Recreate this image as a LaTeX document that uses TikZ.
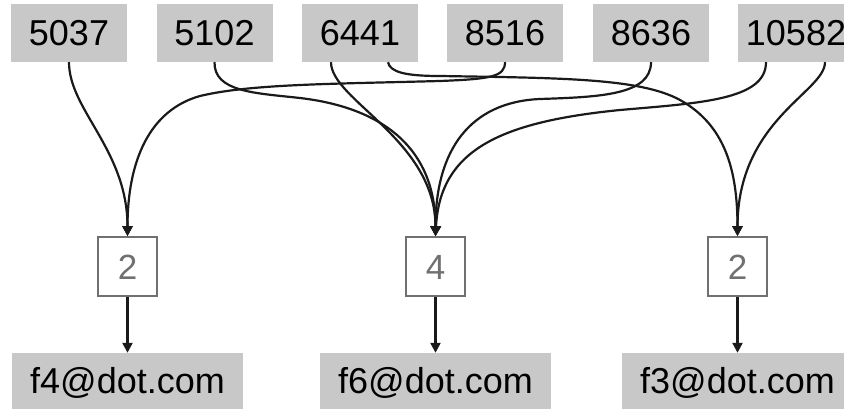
\documentclass[tikz,border=0pt]{standalone}
\usepackage{fontspec}
\setmainfont{Liberation Sans}
\usetikzlibrary{arrows.meta,calc}
\definecolor{boxgray}{RGB}{200,200,200}
\definecolor{countgray}{RGB}{112,112,112}
\definecolor{wire}{RGB}{26,26,26}
\tikzset{
  idbox/.style={fill=boxgray, minimum width=116pt, minimum height=58pt, inner sep=0pt,
    font=\fontsize{36}{40}\selectfont, text height=25.8pt, text depth=0pt},
  countbox/.style={draw=countgray, line width=1.6pt, fill=white, text=countgray,
    minimum width=59pt, minimum height=59pt, inner sep=0pt,
    font=\fontsize{35}{40}\selectfont, text height=25pt, text depth=0pt},
  mailbox/.style={fill=boxgray, minimum width=231pt, minimum height=56pt, inner sep=0pt,
    font=\fontsize{36}{40}\selectfont, text height=25.8pt, text depth=0pt},
  link/.style={draw=wire, line width=2.2pt, -{Triangle[length=10pt,width=10pt]}}
}
\begin{document}
\begin{tikzpicture}[x=1pt,y=-1pt]
\useasboundingbox (0,0) rectangle (844,409);
\clip (0,0) rectangle (844,409);

% source ids
\node[idbox] (a) at (69,33)    {5037};
\node[idbox] (b) at (214.5,33) {5102};
\node[idbox] (c) at (360,33)   {6441};
\node[idbox] (d) at (505,33)   {8516};
\node[idbox] (e) at (651,33)   {8636};
\node[idbox] (f) at (796,33)   {10582};

% counts
\node[countbox] (k1) at (127.5,266.5) {2};
\node[countbox] (k2) at (435.5,266.5) {4};
\node[countbox] (k3) at (737.5,266.5) {2};

% addresses
\node[mailbox] (m1) at (127.5,381) {f4@dot.com};
\node[mailbox] (m2) at (435.5,381) {f6@dot.com};
\node[mailbox] (m3) at (737.5,381) {f3@dot.com};

% exit points of sources with two links
\coordinate (cL) at ($(c.south)+(-29,0)$);
\coordinate (cR) at ($(c.south)+(28,0)$);
\coordinate (fL) at ($(f.south)+(-30,0)$);
\coordinate (fR) at ($(f.south)+(29,0)$);

% links into the first count
\draw[link] (a.south) .. controls (69,110) and (127.5,150) .. (k1.north);
\draw[link] (d.south) .. controls (505,77) and (490,79) .. (440,81)
  .. controls (330,84) and (250,84) .. (200,96)
  .. controls (150,110) and (127.5,160) .. (k1.north);

% links into the second count
\draw[link] (b.south) .. controls (214,92) and (255,93) .. (300,98)
  .. controls (385,108) and (435.5,150) .. (k2.north);
\draw[link] (cL) .. controls (331,100) and (435.5,140) .. (k2.north);
\draw[link] (e.south) .. controls (651,95) and (600,97) .. (540,99)
  .. controls (470,102) and (435.5,150) .. (k2.north);
\draw[link] (fL) .. controls (766,100) and (700,103) .. (620,110)
  .. controls (500,122) and (440,150) .. (k2.north);

% links into the third count
\draw[link] (cR) .. controls (390,72) and (405,76) .. (440,76)
  .. controls (560,78) and (640,78) .. (680,100)
  .. controls (725,125) and (737.5,170) .. (k3.north);
\draw[link] (fR) .. controls (825,92) and (737.5,120) .. (k3.north);

% counts to addresses
\draw[link] (k1.south) -- (m1.north);
\draw[link] (k2.south) -- (m2.north);
\draw[link] (k3.south) -- (m3.north);
\end{tikzpicture}
\end{document}
